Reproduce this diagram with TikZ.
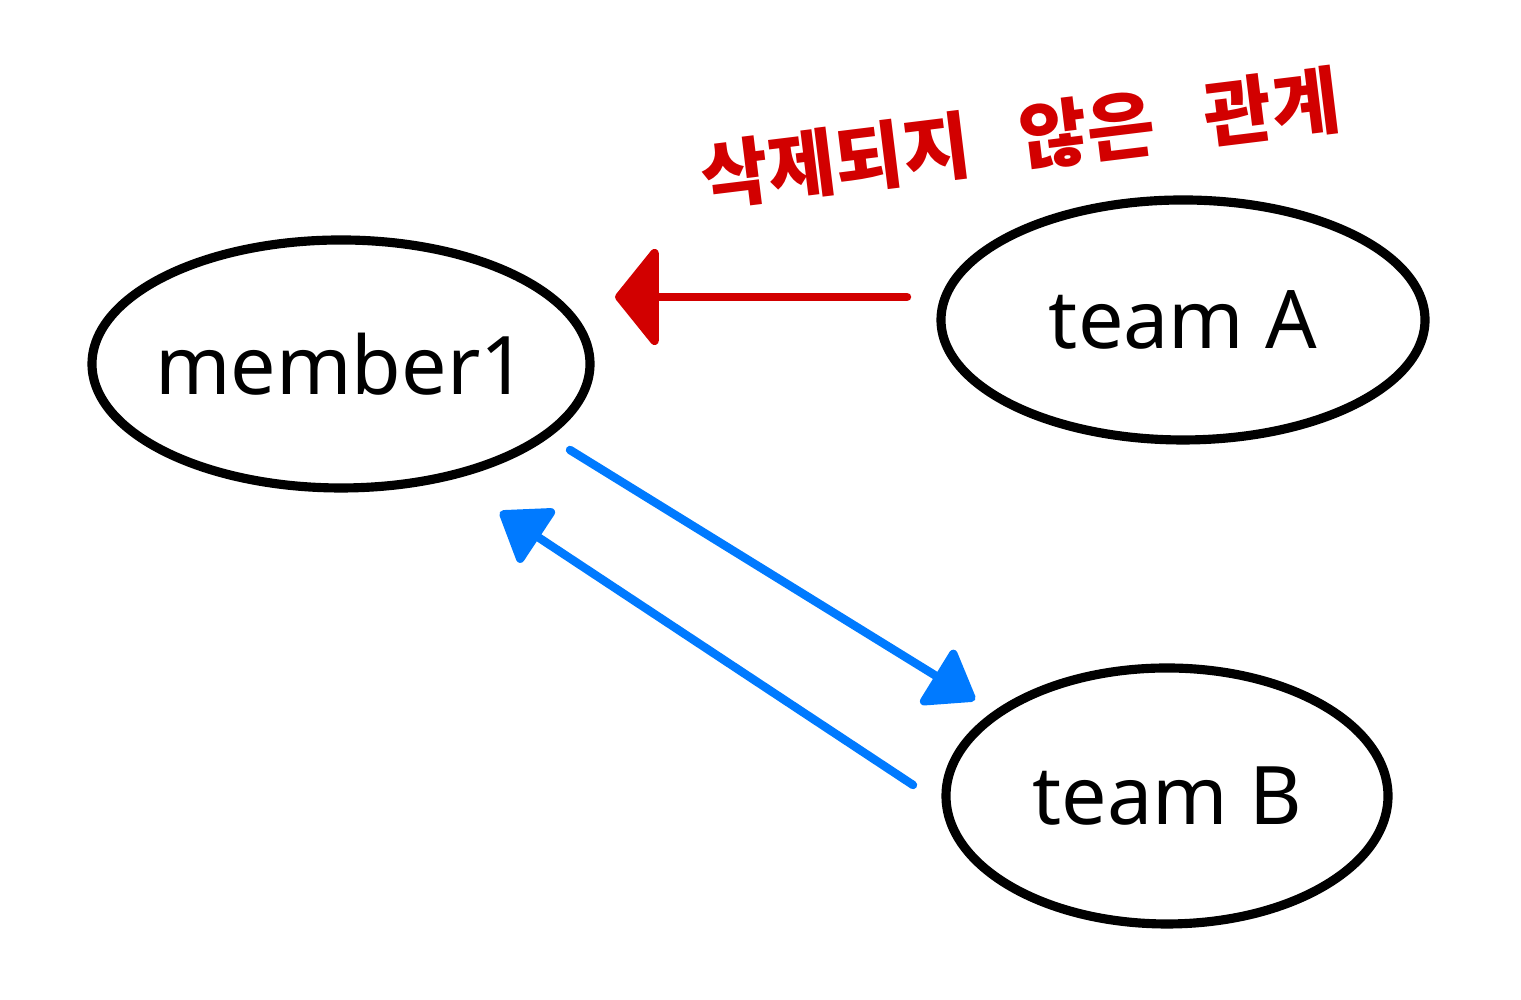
\documentclass[tikz,border=0pt]{standalone}
\usepackage{fontspec}
\setmainfont{Noto Sans}
\newfontfamily\krfont{Noto Sans CJK KR}
\usetikzlibrary{shapes.geometric,arrows.meta}

\definecolor{relred}{RGB}{210,0,0}
\definecolor{relblue}{RGB}{0,122,255}

\tikzset{
    entity/.style={ellipse, draw, line width=2.6pt, inner xsep=-4mm, inner ysep=0pt, outer sep=0pt,
        font=\fontsize{23}{26}\selectfont},
    redline/.style={relred, line width=2.4pt, line cap=round,
        -{Triangle[length=4.5mm,width=11mm,round]}},
    blueline/.style={relblue, line width=2.4pt, line cap=round,
        -{Triangle[length=5mm,width=7mm,round]}}
}

\begin{document}
\begin{tikzpicture}
\useasboundingbox (0,0) rectangle (15.21,10);

        \node[entity, minimum width=4.98cm, minimum height=2.48cm] (member1) at (3.41,6.36) {member1};
        \node[entity, minimum width=4.84cm, minimum height=2.40cm] (teamA) at (11.83,6.80) {team A};
        \node[entity, minimum width=4.42cm, minimum height=2.56cm] (teamB) at (11.67,2.04) {team B};

        % relations
        \draw[redline] ([shift={(-0.34,0.23)}]teamA.west) -- ([shift={(0.25,0.67)}]member1.east);
        \draw[blueline] ([shift={(-0.20,-0.86)}]member1.east) -- ([shift={(0.29,0.96)}]teamB.west);
        \draw[blueline] ([shift={(-0.33,0.11)}]teamB.west) -- ([shift={(1.59,-0.24)}]member1.south);

        \node[relred, rotate=7, font=\krfont\fontsize{21}{24}\selectfont\bfseries] (label) at (10.20,8.62)
            {삭제되지\hspace{0.5cm}않은\hspace{0.5cm}관계};
\end{tikzpicture}
\end{document}
